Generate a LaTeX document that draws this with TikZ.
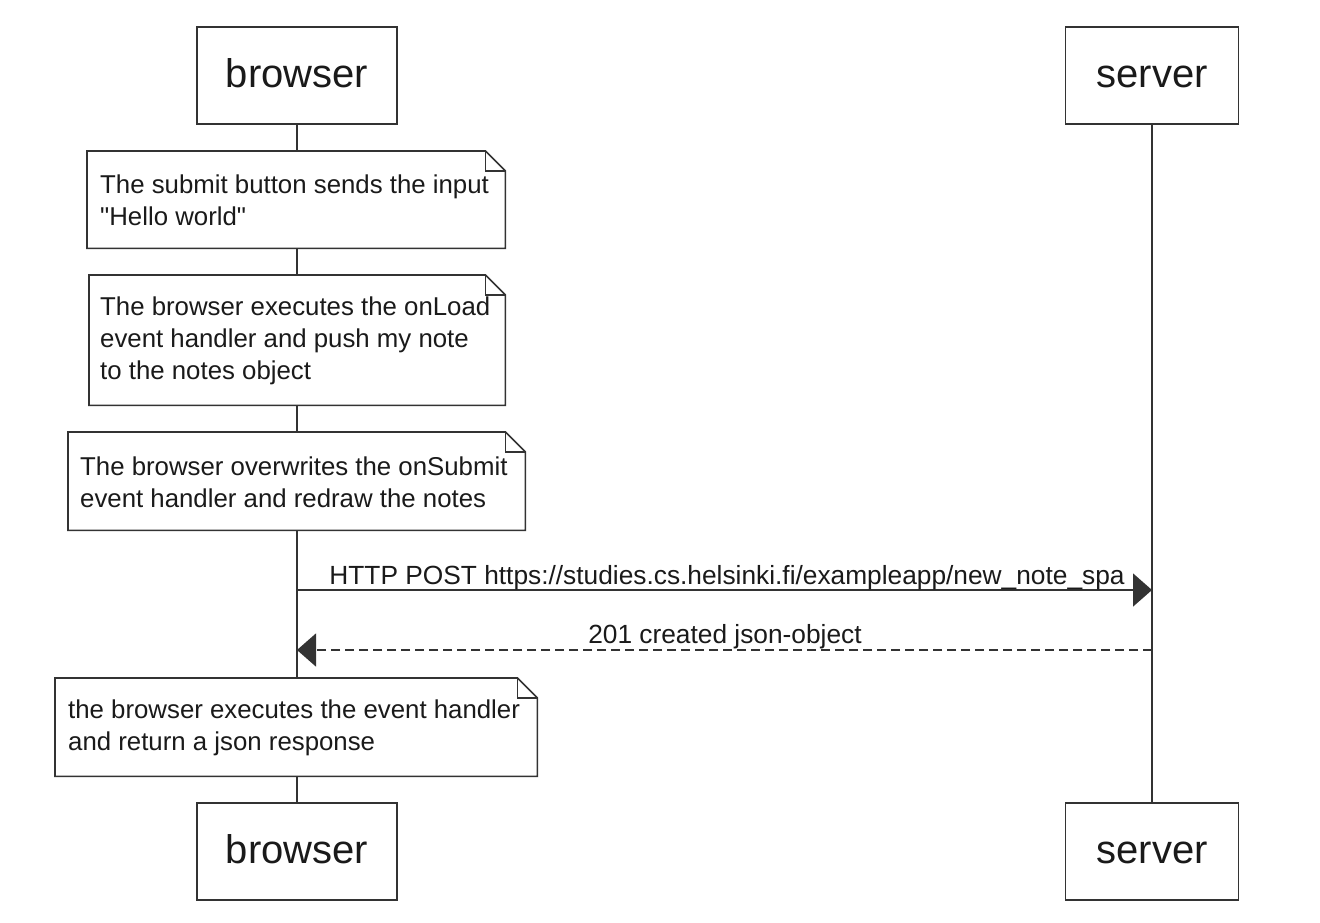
\documentclass[tikz,border=0pt]{standalone}
\usepackage{fontspec}
\newfontfamily\lib{Liberation Sans}
\usetikzlibrary{arrows.meta,calc}
\definecolor{ln}{HTML}{333333}
\definecolor{tx}{HTML}{1A1A1A}
\newcommand\dogear[1]{%
  \draw[ln, line width=1.6pt, line join=miter] (#1.north west) -- ($(#1.north east)+(-20,0)$) -- ($(#1.north east)+(0,20)$) -- (#1.south east) -- (#1.south west) -- cycle;
  \draw[ln, line width=1.2pt] ($(#1.north east)+(-20,0)$) -- ($(#1.north east)+(-20,20)$) -- ($(#1.north east)+(0,20)$);}
\begin{document}
\begin{tikzpicture}[x=1pt,y=-1pt,
  actor/.style={draw=ln, line width=1.6pt, fill=white, minimum height=97pt, inner sep=0pt, text=tx, text height=32pt, text depth=8pt, font=\lib\fontsize{40}{48}\selectfont},
  notebox/.style={fill=white, inner sep=0pt, anchor=north west},
  notetext/.style={inner sep=0pt, align=left, anchor=west, text=tx, font=\lib\fontsize{25.8}{32}\selectfont},
  life/.style={draw=ln, line width=1.6pt},
  msg/.style={draw=ln, line width=1.6pt, -{Triangle[length=19pt,width=33pt]}},
  reply/.style={msg, dash pattern=on 9pt off 5pt},
  lbl/.style={anchor=base, inner sep=0pt, text=tx, font=\lib\fontsize{26.3}{32}\selectfont}]
\useasboundingbox (0,0) rectangle (1320,922);
\fill[white] (0,0) rectangle (1320,922);
% actors
\node[actor, minimum width=200pt] (b1) at (297,75.5) {browser};
\node[actor, minimum width=173pt] (s1) at (1152,75.5) {server};
\node[actor, minimum width=200pt] (b2) at (297,851.5) {browser};
\node[actor, minimum width=173pt] (s2) at (1152,851.5) {server};
% lifelines
\draw[life] (b1.south) -- (b2.north);
\draw[life] (s1.south) -- (s2.north);
% notes
\node[notebox, minimum width=418pt, minimum height=97pt] (n1) at (87,151) {};
\dogear{n1}
\node[notetext] (t1) at ($(n1.west)+(13,1)$) {The submit button sends the input\\"Hello world"};
\node[notebox, minimum width=416pt, minimum height=130pt] (n2) at (89,275) {};
\dogear{n2}
\node[notetext] (t2) at ($(n2.west)+(11,1)$) {The browser executes the onLoad\\event handler and push my note\\to the notes object};
\node[notebox, minimum width=457pt, minimum height=98pt] (n3) at (68,432) {};
\dogear{n3}
\node[notetext] (t3) at ($(n3.west)+(12,1)$) {The browser overwrites the onSubmit\\event handler and redraw the notes};
\node[notebox, minimum width=482pt, minimum height=98pt] (n4) at (55,678) {};
\dogear{n4}
\node[notetext] (t4) at ($(n4.west)+(13,1)$) {the browser executes the event handler\\and return a json response};
% messages
\coordinate (y1) at (0,590);
\coordinate (y2) at (0,650);
\draw[msg] (b1.south |- y1) -- (s1.south |- y1);
\node[lbl] (l1) at (727,584) {HTTP POST https://studies.cs.helsinki.fi/exampleapp/new\_note\_spa};
\draw[reply] (s1.south |- y2) -- (b1.south |- y2);
\node[lbl] (l2) at (725,643) {201 created json-object};
\end{tikzpicture}
\end{document}
